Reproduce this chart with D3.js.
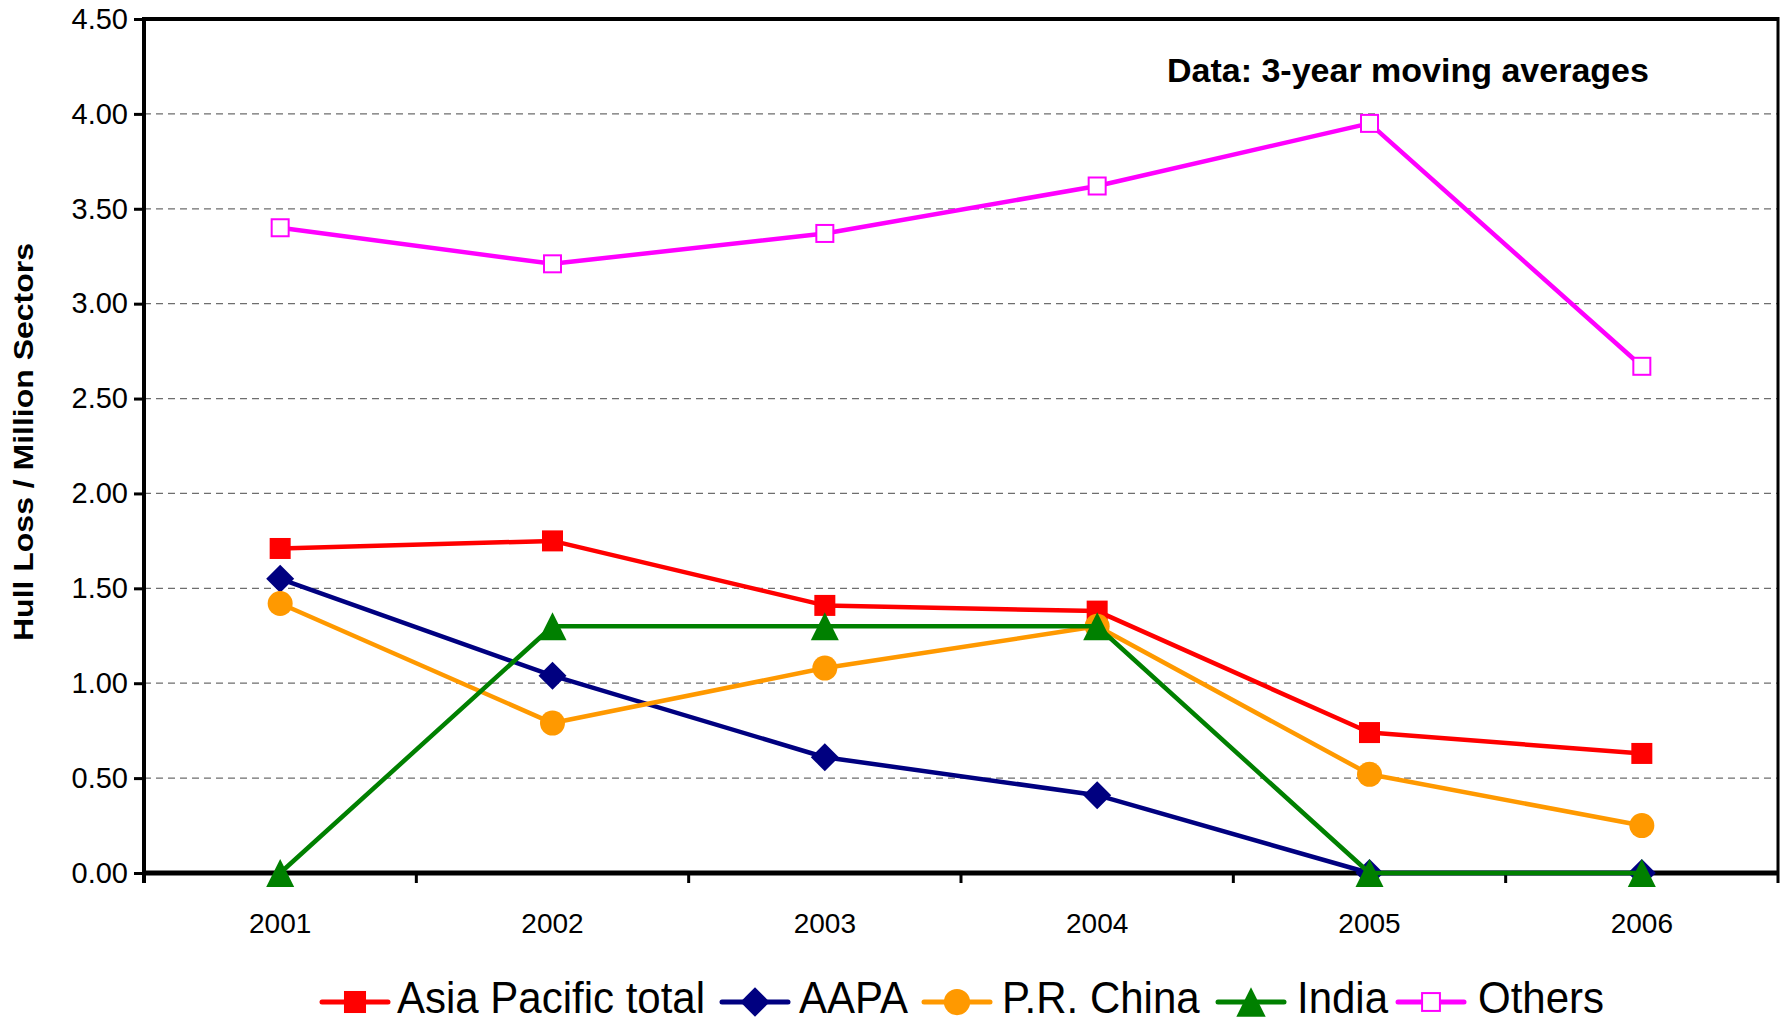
<!DOCTYPE html>
<html>
<head>
<meta charset="utf-8">
<script src="https://cdn.jsdelivr.net/npm/d3@7"></script>
<style>
  body { margin: 0; background: #fff; }
  svg { display: block; font-family: "Liberation Sans", Arial, sans-serif; }
</style>
</head>
<body>
<svg id="chart" width="1785" height="1023"></svg>
<script>
const years = ["2001", "2002", "2003", "2004", "2005", "2006"];
const asiaPacific = [1.71, 1.75, 1.41, 1.38, 0.74, 0.63];
const aapa = [1.55, 1.04, 0.61, 0.41, 0.00, 0.00];
const prChina = [1.42, 0.79, 1.08, 1.30, 0.52, 0.25];
const india = [0.00, 1.30, 1.30, 1.30, 0.00, 0.00];
const others = [3.40, 3.21, 3.37, 3.62, 3.95, 2.67];
const yTicks = [0, 0.5, 1, 1.5, 2, 2.5, 3, 3.5, 4, 4.5];
const seriesNames = ["Asia Pacific total", "AAPA", "P.R. China", "India", "Others"];

const series = [
  { name: seriesNames[0], values: asiaPacific, color: "#FF0000", marker: "square" },
  { name: seriesNames[1], values: aapa, color: "#000080", marker: "diamond" },
  { name: seriesNames[2], values: prChina, color: "#FF9900", marker: "circle" },
  { name: seriesNames[3], values: india, color: "#008000", marker: "triangle" },
  { name: seriesNames[4], values: others, color: "#FF00FF", marker: "hollow" }
];

const svg = d3.select("#chart");
const pLeft = 144, pRight = 1778, pTop = 19, pBottom = 873;

const x = d3.scaleBand().domain(years).range([pLeft, pRight]);
const y = d3.scaleLinear().domain([0, 4.5]).range([pBottom, pTop]);
const cx = d => x(d) + x.bandwidth() / 2;

// gridlines
svg.append("g").selectAll("line").data(yTicks.filter(t => t > 0 && t < 4.5)).join("line")
  .attr("x1", pLeft).attr("x2", pRight)
  .attr("y1", d => y(d)).attr("y2", d => y(d))
  .attr("stroke", "#6e6e6e").attr("stroke-width", 1.3)
  .attr("stroke-dasharray", "7,5");

// frame top / right
svg.append("line").attr("x1", pLeft).attr("x2", pRight).attr("y1", y(4.5)).attr("y2", y(4.5))
  .attr("stroke", "#000").attr("stroke-width", 4);
svg.append("line").attr("x1", pRight).attr("x2", pRight).attr("y1", y(4.5) - 2).attr("y2", pBottom + 10)
  .attr("stroke", "#000").attr("stroke-width", 3);

// y axis
const yAxis = d3.axisLeft(y).tickValues(yTicks).tickFormat(d3.format(".2f")).tickSize(10).tickPadding(6);
const gy = svg.append("g").attr("transform", `translate(${pLeft},0)`).call(yAxis);
gy.select(".domain").attr("stroke", "#000").attr("stroke-width", 4).attr("d", `M0,${pTop - 2}V${pBottom + 10}`);
gy.selectAll(".tick line").attr("stroke", "#000").attr("stroke-width", 3);
gy.selectAll(".tick text").attr("font-size", 29).attr("fill", "#000")
  .attr("font-family", "'Liberation Sans', Arial, sans-serif");

// x axis: ticks at category boundaries
const gx = svg.append("g").attr("transform", `translate(0,${pBottom})`);
gx.append("line").attr("x1", pLeft).attr("x2", pRight).attr("stroke", "#000").attr("stroke-width", 5);
gx.selectAll("line.tk").data(years.slice(1)).join("line").attr("class", "tk")
  .attr("x1", d => x(d)).attr("x2", d => x(d)).attr("y1", 0).attr("y2", 10)
  .attr("stroke", "#000").attr("stroke-width", 3);
gx.selectAll("text").data(years).join("text")
  .attr("x", d => cx(d)).attr("y", 60).attr("text-anchor", "middle")
  .attr("font-size", 28).attr("fill", "#000").text(d => d);

// y label
svg.append("text")
  .attr("transform", `translate(33,442) rotate(-90)`)
  .attr("text-anchor", "middle").attr("font-weight", "bold").attr("font-size", 28)
  .attr("textLength", 398).attr("lengthAdjust", "spacingAndGlyphs")
  .text("Hull Loss / Million Sectors");

// annotation
svg.append("text").attr("x", 1167).attr("y", 82).attr("font-weight", "bold").attr("font-size", 34)
  .text("Data: 3-year moving averages");

function drawMarker(g, type, color, px, py, scale) {
  const s = scale || 1;
  if (type === "square") {
    g.append("rect").attr("x", px - 10.5 * s).attr("y", py - 10.5 * s).attr("width", 21 * s).attr("height", 21 * s).attr("fill", color);
  } else if (type === "diamond") {
    const r = 14 * s;
    g.append("path").attr("d", `M${px},${py - r}L${px + r},${py}L${px},${py + r}L${px - r},${py}Z`).attr("fill", color);
  } else if (type === "circle") {
    g.append("circle").attr("cx", px).attr("cy", py).attr("r", 12.5 * s).attr("fill", color);
  } else if (type === "triangle") {
    const h = 14 * s;
    g.append("path").attr("d", `M${px},${py - h}L${px + h},${py + h}L${px - h},${py + h}Z`).attr("fill", color);
  } else if (type === "hollow") {
    g.append("rect").attr("x", px - 8.5 * s).attr("y", py - 8.5 * s).attr("width", 17 * s).attr("height", 17 * s)
      .attr("fill", "#fff").attr("stroke", color).attr("stroke-width", 2);
  }
}

const line = d3.line().x((d, i) => cx(years[i])).y(d => y(d));

series.forEach(s => {
  const g = svg.append("g");
  g.append("path").attr("d", line(s.values)).attr("fill", "none")
    .attr("stroke", s.color).attr("stroke-width", 4.5).attr("stroke-linejoin", "round");
  s.values.forEach((v, i) => drawMarker(g, s.marker, s.color, cx(years[i]), y(v)));
});

// legend
const legendX = [322, 722, 924, 1218, 1398];
const legendTextX = [397, 799, 1002, 1297, 1478];
const ly = 1002;
series.forEach((s, i) => {
  const g = svg.append("g");
  g.append("line").attr("x1", legendX[i]).attr("x2", legendX[i] + 66).attr("y1", ly).attr("y2", ly)
    .attr("stroke", s.color).attr("stroke-width", 5).attr("stroke-linecap", "round");
  drawMarker(g, s.marker, s.color, legendX[i] + 33, ly, 1.05);
  g.append("text").attr("transform", `translate(${legendTextX[i]},1013) scale(1,1.05)`)
    .attr("font-size", 42).attr("fill", "#000").text(s.name);
});
</script>
</body>
</html>
